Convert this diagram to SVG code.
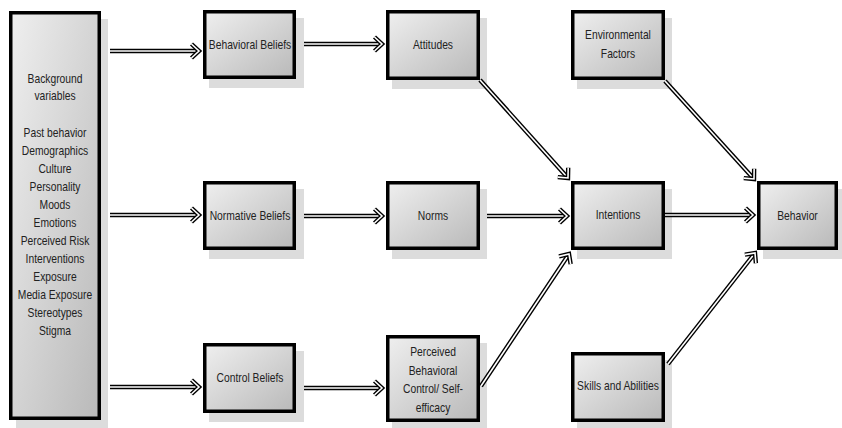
<svg xmlns="http://www.w3.org/2000/svg" width="842" height="428" viewBox="0 0 842 428">
<defs>
<linearGradient id="fillg" x1="0" y1="0" x2="1" y2="1">
<stop offset="0" stop-color="#efefef"/>
<stop offset="1" stop-color="#b9b9b9"/>
</linearGradient>
<marker id="ah" markerUnits="userSpaceOnUse" markerWidth="20" markerHeight="20" viewBox="0 0 20 20" refX="10" refY="10" orient="auto" overflow="visible">
<path d="M2.5,3 L10,10 L2.5,17" fill="none" stroke="#000" stroke-width="4.4"/>
<path d="M2.5,3 L10,10 L2.5,17" fill="none" stroke="#fff" stroke-width="1.6"/>
</marker>
</defs>
<style>
.sh{fill:#dcdcdc}
.bx{fill:url(#fillg);stroke:#000;stroke-width:3.5}
.t{font-family:"Liberation Sans",Arial,sans-serif;font-size:13.2px;fill:#222;text-anchor:middle}
.o{fill:none;stroke:#000;stroke-width:4.4}
.i{fill:none;stroke:#fff;stroke-width:1.6}
</style>
<rect width="842" height="428" fill="#fff"/>

<g id="background">
<rect class="sh" x="16" y="19" width="92" height="409"/>
<rect class="bx" x="10.75" y="12.75" width="88.5" height="405.5"/>
<text class="t" transform="translate(55,83) scale(0.78,1)">Background</text>
<text class="t" transform="translate(55,100) scale(0.78,1)">variables</text>
<text class="t" transform="translate(55,137) scale(0.78,1)">Past behavior</text>
<text class="t" transform="translate(55,155) scale(0.78,1)">Demographics</text>
<text class="t" transform="translate(55,173) scale(0.78,1)">Culture</text>
<text class="t" transform="translate(55,191) scale(0.78,1)">Personality</text>
<text class="t" transform="translate(55,209) scale(0.78,1)">Moods</text>
<text class="t" transform="translate(55,227) scale(0.78,1)">Emotions</text>
<text class="t" transform="translate(55,245) scale(0.78,1)">Perceived Risk</text>
<text class="t" transform="translate(55,263) scale(0.78,1)">Interventions</text>
<text class="t" transform="translate(55,281) scale(0.78,1)">Exposure</text>
<text class="t" transform="translate(55,299) scale(0.78,1)">Media Exposure</text>
<text class="t" transform="translate(55,317) scale(0.78,1)">Stereotypes</text>
<text class="t" transform="translate(55,335) scale(0.78,1)">Stigma</text>
</g>

<g id="behavioral-beliefs">
<rect class="sh" x="209" y="18" width="95" height="70"/>
<rect class="bx" x="204.75" y="11.75" width="89.5" height="65.5"/>
<text class="t" transform="translate(250,49) scale(0.78,1)">Behavioral Beliefs</text>
</g>

<g id="normative-beliefs">
<rect class="sh" x="209" y="189" width="95" height="70"/>
<rect class="bx" x="204.75" y="182.75" width="89.5" height="65.5"/>
<text class="t" transform="translate(250,220) scale(0.78,1)">Normative Beliefs</text>
</g>

<g id="control-beliefs">
<rect class="sh" x="209" y="351" width="95" height="71"/>
<rect class="bx" x="204.75" y="344.75" width="89.5" height="66.5"/>
<text class="t" transform="translate(250,382) scale(0.78,1)">Control Beliefs</text>
</g>

<g id="attitudes">
<rect class="sh" x="392" y="18" width="95" height="71"/>
<rect class="bx" x="387.75" y="11.75" width="90.5" height="66.5"/>
<text class="t" transform="translate(433,49) scale(0.78,1)">Attitudes</text>
</g>

<g id="norms">
<rect class="sh" x="392" y="189" width="95" height="70"/>
<rect class="bx" x="387.75" y="182.75" width="90.5" height="65.5"/>
<text class="t" transform="translate(433,220) scale(0.78,1)">Norms</text>
</g>

<g id="pbc">
<rect class="sh" x="392" y="343" width="95" height="85"/>
<rect class="bx" x="387.75" y="336.75" width="90.5" height="83.5"/>
<text class="t" transform="translate(433,356) scale(0.78,1)">Perceived</text>
<text class="t" transform="translate(433,374.5) scale(0.78,1)">Behavioral</text>
<text class="t" transform="translate(433,393) scale(0.78,1)">Control/ Self-</text>
<text class="t" transform="translate(433,411.5) scale(0.78,1)">efficacy</text>
</g>

<g id="environmental-factors">
<rect class="sh" x="577" y="18" width="95" height="71"/>
<rect class="bx" x="572.75" y="11.75" width="90.5" height="66.5"/>
<text class="t" transform="translate(618,39) scale(0.78,1)">Environmental</text>
<text class="t" transform="translate(618,57.5) scale(0.78,1)">Factors</text>
</g>

<g id="intentions">
<rect class="sh" x="577" y="189" width="95" height="70"/>
<rect class="bx" x="572.75" y="182.75" width="90.5" height="65.5"/>
<text class="t" transform="translate(618,219) scale(0.78,1)">Intentions</text>
</g>

<g id="skills">
<rect class="sh" x="577" y="360" width="95" height="70"/>
<rect class="bx" x="572.75" y="353.75" width="90.5" height="66.5"/>
<text class="t" transform="translate(618,390) scale(0.78,1)">Skills and Abilities</text>
</g>

<g id="behavior">
<rect class="sh" x="763" y="189" width="82" height="70"/>
<rect class="bx" x="758.75" y="182.75" width="77.5" height="65.5"/>
<text class="t" transform="translate(797.5,220) scale(0.78,1)">Behavior</text>
</g>

<g id="connectors">
<path class="o" d="M110,51 H199"/><path class="i" d="M110,51 H199" marker-end="url(#ah)"/>
<path class="o" d="M110,215 H199"/><path class="i" d="M110,215 H199" marker-end="url(#ah)"/>
<path class="o" d="M110,387 H199"/><path class="i" d="M110,387 H199" marker-end="url(#ah)"/>
<path class="o" d="M304,44 H382"/><path class="i" d="M304,44 H382" marker-end="url(#ah)"/>
<path class="o" d="M304,216 H382"/><path class="i" d="M304,216 H382" marker-end="url(#ah)"/>
<path class="o" d="M304,388 H382"/><path class="i" d="M304,388 H382" marker-end="url(#ah)"/>
<path class="o" d="M487,216 H567"/><path class="i" d="M487,216 H567" marker-end="url(#ah)"/>
<path class="o" d="M665,215 H753"/><path class="i" d="M665,215 H753" marker-end="url(#ah)"/>
<path class="o" d="M480,80 L568,178"/><path class="i" d="M480,80 L568,178" marker-end="url(#ah)"/>
<path class="o" d="M481,386 L569,254"/><path class="i" d="M481,386 L569,254" marker-end="url(#ah)"/>
<path class="o" d="M665,81 L754,179"/><path class="i" d="M665,81 L754,179" marker-end="url(#ah)"/>
<path class="o" d="M668,364 L755,253"/><path class="i" d="M668,364 L755,253" marker-end="url(#ah)"/>
</g>
</svg>
